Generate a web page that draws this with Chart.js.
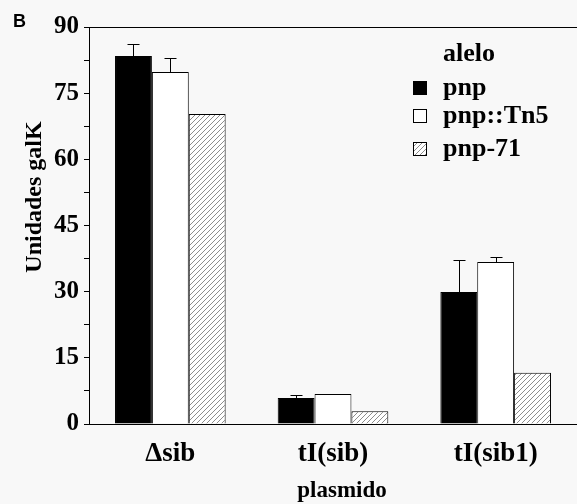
<!DOCTYPE html>
<html><head><meta charset="utf-8">
<script src="https://cdn.jsdelivr.net/npm/chart.js@4"></script>
<style>html,body{margin:0;padding:0;background:#f8f8f8}#wrap{width:577px;height:504px;position:relative}</style>
</head><body><div id="wrap"><canvas id="c" width="577" height="504"></canvas></div>
<script>
const categories = ['Δsib', 'tI(sib)', 'tI(sib1)'];
const seriesNames = ['pnp', 'pnp::Tn5', 'pnp-71'];
const pnpValues = [83.4, 5.9, 29.9];
const tn5Values = [79.8, 6.8, 36.7];
const pnp71Values = [70.3, 2.9, 11.6];
const pnpErrors = [2.7, 0.6, 7.3];
const tn5Errors = [3.2, 0, 1.2];
const pnp71Errors = [0, 0, 0];
const yMax = 90, yMajorStep = 15, yMinorStep = 7.5;
const legendTitle = 'alelo';
const xTitle = 'plasmido';
const yTitle = 'Unidades galK';
const panelLabel = 'B';

const SERIF = '"Liberation Serif", "Times New Roman", serif';

function hatchPattern() {
  const c = document.createElement('canvas'); c.width = 5; c.height = 5;
  const x = c.getContext('2d');
  x.fillStyle = '#ffffff'; x.fillRect(0, 0, 5, 5);
  x.strokeStyle = '#808080'; x.lineWidth = 0.9;
  x.beginPath();
  x.moveTo(0, 5); x.lineTo(5, 0);
  x.moveTo(-1, 1); x.lineTo(1, -1);
  x.moveTo(4, 6); x.lineTo(6, 4);
  x.stroke();
  return x.createPattern(c, 'repeat');
}
const hatch = hatchPattern();

const fills = ['#000000', '#ffffff', hatch];
const seriesValues = [pnpValues, tn5Values, pnp71Values];
const seriesErrors = [pnpErrors, tn5Errors, pnp71Errors];

const datasets = seriesNames.map((n, i) => ({
  label: n,
  data: seriesValues[i],
  errors: seriesErrors[i],
  backgroundColor: fills[i],
  borderColor: '#000000',
  borderWidth: 1,
  barPercentage: 1.0,
  categoryPercentage: 0.68
}));

const errorBars = {
  id: 'errorBars',
  afterDatasetsDraw(chart) {
    const ctx = chart.ctx, ys = chart.scales.y;
    ctx.save();
    ctx.strokeStyle = '#000'; ctx.lineWidth = 1;
    chart.data.datasets.forEach((ds, i) => {
      const meta = chart.getDatasetMeta(i);
      meta.data.forEach((el, j) => {
        const e = ds.errors[j];
        if (!e) return;
        const yTop = ys.getPixelForValue(ds.data[j] + e);
        const x = Math.round(el.x) + 0.5;
        ctx.beginPath();
        ctx.moveTo(x, el.y); ctx.lineTo(x, Math.round(yTop) + 0.5);
        ctx.moveTo(x - 6, Math.round(yTop) + 0.5); ctx.lineTo(x + 6, Math.round(yTop) + 0.5);
        ctx.stroke();
      });
    });
    ctx.restore();
  }
};

const decorations = {
  id: 'decorations',
  afterDraw(chart) {
    const ctx = chart.ctx, a = chart.chartArea;
    ctx.save();
    ctx.strokeStyle = '#000'; ctx.lineWidth = 1;
    ctx.beginPath(); ctx.moveTo(a.left, Math.round(a.top) + 0.5); ctx.lineTo(a.right, Math.round(a.top) + 0.5); ctx.stroke();
    ctx.fillStyle = '#000';
    ctx.font = 'bold 18px "Liberation Sans", Arial, sans-serif';
    ctx.textAlign = 'left'; ctx.textBaseline = 'middle';
    ctx.fillText(panelLabel, 13, 22);
    ctx.save();
    ctx.translate(35, 197); ctx.rotate(-Math.PI / 2);
    ctx.font = 'bold 24px ' + SERIF;
    ctx.textAlign = 'center'; ctx.textBaseline = 'middle';
    ctx.fillText(yTitle, 0, 0);
    ctx.restore();
    ctx.font = 'bold 23px ' + SERIF;
    ctx.textAlign = 'center'; ctx.textBaseline = 'middle';
    ctx.fillText(xTitle, 342, 491);
    ctx.font = 'bold 26px ' + SERIF;
    ctx.textAlign = 'left'; ctx.textBaseline = 'middle';
    ctx.fillText(legendTitle, 443, 54);
    const rowY = [88, 116, 149];
    chart.data.datasets.forEach((ds, i) => {
      const y = rowY[i];
      ctx.fillStyle = ds.backgroundColor;
      ctx.fillRect(413, y - 7, 14, 14);
      ctx.strokeStyle = '#000'; ctx.lineWidth = 1;
      ctx.strokeRect(413.5, y - 6.5, 13, 13);
      ctx.fillStyle = '#000';
      ctx.fillText(ds.label, 443, y);
    });
    ctx.restore();
  }
};

new Chart(document.getElementById('c'), {
  type: 'bar',
  data: { labels: categories, datasets },
  options: {
    responsive: false,
    animation: false,
    devicePixelRatio: 1,
    layout: { padding: { top: 27, right: 0, left: 0, bottom: 0 } },
    plugins: { legend: { display: false }, tooltip: { enabled: false } },
    scales: {
      x: {
        grid: { display: false, drawTicks: false },
        border: { display: true, color: '#000', width: 1 },
        ticks: { color: '#000', font: { family: SERIF, size: 27, weight: 'bold' }, padding: 14 },
        afterFit(s) { s.height = 80; }
      },
      y: {
        min: 0, max: yMax,
        grid: { display: true, drawOnChartArea: false, drawTicks: true, tickLength: 5, color: '#000' },
        border: { display: true, color: '#000', width: 1 },
        ticks: {
          stepSize: yMinorStep,
          color: '#000',
          padding: 5,
          font: { family: SERIF, size: 25, weight: 'bold' },
          callback: v => (v % yMajorStep === 0 ? String(v) : '')
        },
        afterFit(s) { s.width = 89; }
      }
    }
  },
  plugins: [errorBars, decorations]
});
</script>
</body></html>
